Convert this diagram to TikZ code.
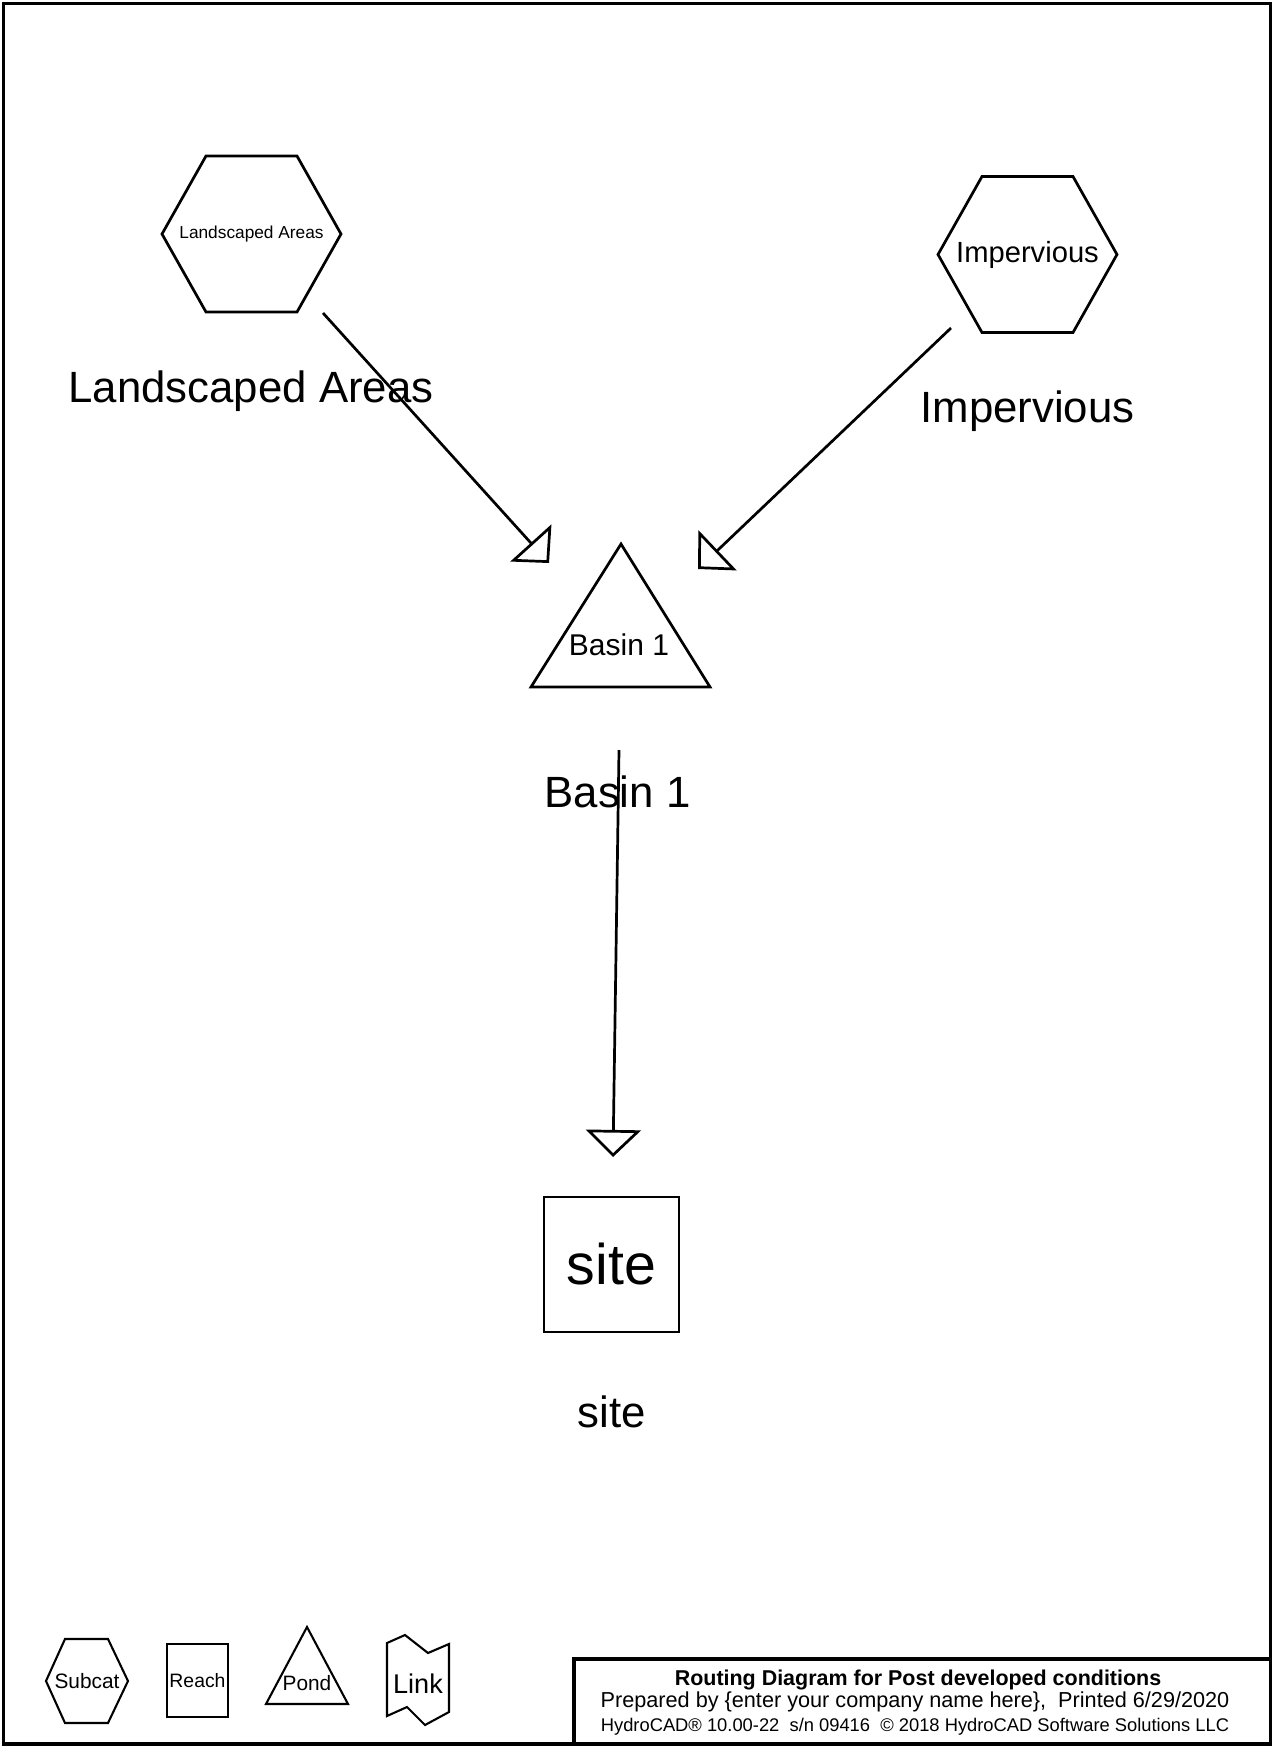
\documentclass[tikz,border=0pt]{standalone}
\usepackage{fontspec}
\setmainfont{Liberation Sans}
\usetikzlibrary{arrows.meta}
\newcommand{\fsz}[1]{\fontsize{#1}{#1}\selectfont}
\newcommand{\hexround}[1]{\draw ([shift={(-89.5,0)}]#1.center) -- ++(44,-78) -- ++(91,0) -- ++(44,78) -- ++(-44,78) -- ++(-91,0) -- cycle;}
\tikzset{
	hextext/.style={inner sep=0pt},
	flow/.style={-{Triangle[open,length=13pt,width=26.4pt]}},
	biglabel/.style={anchor=base, font=\fsz{21}},
	legendline/.style={line width=1pt},
}
\begin{document}
\begin{tikzpicture}[x=0.48pt,y=-0.48pt,line width=1.3pt]
	\useasboundingbox (0,0) rectangle (1275,1748);
	\draw[line width=1.9pt] (3.5,3.5) rectangle (1270.5,1744);
	
	\node[hextext, font=\fsz{8.3}] (LA) at (251.5,234) {Landscaped Areas};
	\node[hextext, font=\fsz{14}] (IMP) at (1027.5,254.5) {Impervious};
	\hexround{LA}
	\hexround{IMP}
	\draw (621,544)--(710,687)--(531,687)--cycle;
	\node[anchor=base, font=\fsz{14.4}, inner sep=0pt] (B1) at (619,655) {Basin 1};
	\node[draw, minimum width=64.8pt, minimum height=64.8pt, inner sep=0pt, font=\fsz{27.5}] (site) at (611.5,1264.5) {site};
	
	\node[biglabel] (LA-lbl) at (251,402) {Landscaped Areas};
	\node[biglabel] (IMP-lbl) at (1027.5,422) {Impervious};
	\node[biglabel] (B1-lbl) at (617.5,807) {Basin 1};
	\node[biglabel] (site-lbl) at (611.5,1427) {site};
	
	\coordinate (LA-out) at (323,313);
	\coordinate (B1-inL) at (549,563);
	\coordinate (IMP-out) at (951,328);
	\coordinate (B1-inR) at (698,569);
	\coordinate (B1-out) at (619,750);
	\coordinate (site-in) at (613,1157);
	\draw[flow] (LA-out)--(B1-inL);
	\draw[flow] (IMP-out)--(B1-inR);
	\draw[flow] (B1-out)--(site-in);
	
	\begin{scope}[legendline]
		\draw (46,1681)--(65,1639)--(108,1639)--(128,1681)--(108,1723)--(65,1723)--cycle;
		\node[font=\fsz{10}, inner sep=0pt] (subcat) at (87,1681) {Subcat};
		\node[draw, minimum width=29.3pt, minimum height=35pt, inner sep=0pt, font=\fsz{9.3}] (reach) at (197.5,1680.5) {Reach};
		\draw (307,1627)--(348,1704)--(266,1704)--cycle;
		\node[anchor=base, font=\fsz{10}, inner sep=0pt] (pond) at (307,1690) {Pond};
		\draw (387,1643)--(405,1635)--(428,1653)--(449,1644)--(449,1712)--(425,1725)--(407,1707)--(387,1716)--cycle;
		\node[anchor=base, font=\fsz{13}, inner sep=0pt] (link) at (418,1693) {Link};
	\end{scope}
	
	\draw[line width=1.8pt] (574,1659) rectangle (1270.5,1744);
	\node[anchor=base, font=\bfseries\fsz{10.3}, inner sep=0pt] (ttl) at (918,1685) {Routing Diagram for Post developed conditions};
	\node[anchor=base, font=\fsz{10.4}, inner sep=0pt] (prep) at (915,1707) {Prepared by \{enter your company name here\}, \ Printed 6/29/2020};
	\node[anchor=base, font=\fsz{8.8}, inner sep=0pt] (ver) at (915,1731) {HydroCAD® 10.00-22 \ s/n 09416 \ © 2018 HydroCAD Software Solutions LLC};
\end{tikzpicture}
\end{document}
